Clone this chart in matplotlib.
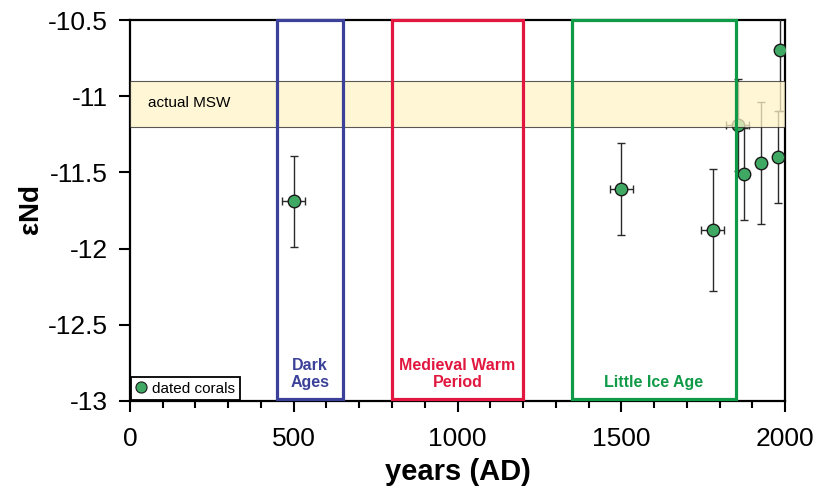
import matplotlib
matplotlib.use('Agg')
import matplotlib.pyplot as plt
from matplotlib.patches import Rectangle
from matplotlib.lines import Line2D
from matplotlib.ticker import MultipleLocator

plt.rcParams['font.family'] = ['Liberation Sans', 'DejaVu Sans']
plt.rcParams['mathtext.fontset'] = 'custom'
plt.rcParams['mathtext.rm'] = 'Liberation Sans'
plt.rcParams['mathtext.it'] = 'Liberation Sans'

# coral data
years = [500, 1500, 1780, 1856, 1875, 1927, 1979, 1985]
end_vals = [-11.69, -11.61, -11.88, -11.19, -11.51, -11.44, -11.40, -10.70]
end_err = [0.30, 0.30, 0.40, 0.30, 0.30, 0.40, 0.30, 0.40]
year_err = [35, 35, 35, 35, 0, 0, 0, 0]

# climate periods
periods = ['Dark\nAges', 'Medieval Warm\nPeriod', 'Little Ice Age']
period_start = [450, 800, 1350]
period_end = [650, 1200, 1850]
period_colors = ['#3b4199', '#e2173f', '#0f9a47']

# modern seawater band
msw_low, msw_high = -11.2, -10.9

fig = plt.figure(figsize=(8.15, 4.94), dpi=100)
ax = fig.add_axes([0.1595, 0.1883, 0.8037, 0.7712])

ax.set_xlim(0, 2000)
ax.set_ylim(-13, -10.5)

# MSW band
ax.add_patch(Rectangle((0, msw_low), 2000, msw_high - msw_low,
                       facecolor='#fff4c8', alpha=0.75, edgecolor='#222222',
                       linewidth=0.8, zorder=4))
ax.text(55, -11.045, 'actual MSW', fontsize=11, va='center', ha='left', zorder=6)

# period boxes
for name, x0, x1, c in zip(periods, period_start, period_end, period_colors):
    ax.add_patch(Rectangle((x0, -12.985), x1 - x0, 2.485, facecolor='none',
                           edgecolor=c, linewidth=2.3, zorder=5, clip_on=False))
    ax.text((x0 + x1) / 2, -12.93, name, color=c, fontsize=11.5, fontweight='bold',
            ha='center', va='bottom', linespacing=1.2, zorder=6)

# corals
ax.errorbar(years, end_vals, yerr=end_err, xerr=year_err, fmt='o',
            color='#2a2a2a', ecolor='#2a2a2a', elinewidth=1.0, capsize=3,
            capthick=1.0, markersize=9, markerfacecolor='#3fa862',
            markeredgecolor='#1a1a1a', markeredgewidth=1.0, zorder=3)

handle = Line2D([], [], linestyle='none', marker='o', markersize=8,
                markerfacecolor='#3fa862', markeredgecolor='#1a1a1a',
                markeredgewidth=0.8)
leg = ax.legend([handle], ['dated corals'], loc='lower left', fontsize=11,
                handlelength=0.8, handletextpad=0.3, borderpad=0.3,
                borderaxespad=0.05, fancybox=False, framealpha=1,
                edgecolor='black')
leg.get_frame().set_linewidth(1.3)
leg.set_zorder(7)

ax.xaxis.set_major_locator(MultipleLocator(500))
ax.xaxis.set_minor_locator(MultipleLocator(100))
ax.set_yticks([-13, -12.5, -12, -11.5, -11, -10.5])
ax.set_yticklabels(['-13', '-12.5', '-12', '-11.5', '-11', '-10.5'])
ax.tick_params(axis='both', which='major', direction='out', length=8, width=1.5,
               labelsize=19, pad=8)
ax.tick_params(axis='x', which='major', pad=11)
ax.tick_params(axis='x', which='minor', direction='out', length=5, width=1.5)
ax.tick_params(top=False, right=False)

for s in ax.spines.values():
    s.set_linewidth(1.6)

ax.set_xlabel('years (AD)', fontsize=21, fontweight='bold', labelpad=5)
ax.set_ylabel(r'$\mathregular{\epsilon}$Nd', fontsize=20, fontweight='bold',
              labelpad=2)

fig.savefig('out.png', dpi=100)
